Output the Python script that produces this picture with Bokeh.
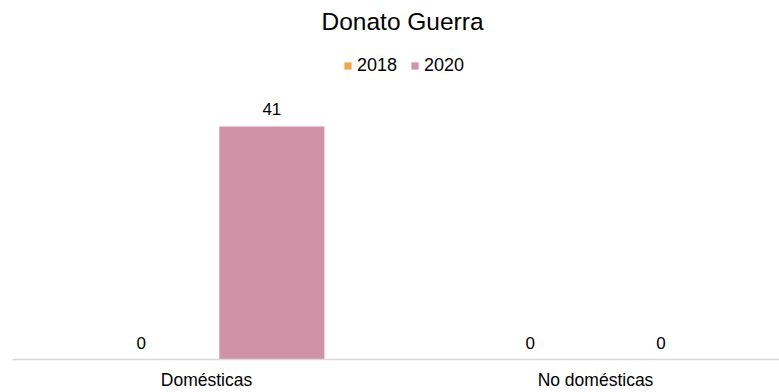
from bokeh.plotting import figure
from bokeh.models import ColumnDataSource, Range1d, FixedTicker, Legend, LegendItem, LabelSet
from bokeh.core.properties import value
from bokeh.embed import file_html
from bokeh.resources import INLINE

categories = ["Domésticas", "No domésticas"]
years = ["2018", "2020"]
values_2018 = [0, 0]
values_2020 = [41, 0]
colors = ["#F5A54A", "#D191A7"]

FONT = "Liberation Sans"
pos = [i + 0.5 for i in range(len(categories))]
offset = 0.168
bw = 0.27

p = figure(width=779, height=392, output_backend="svg", toolbar_location=None,
           x_range=Range1d(0.0013, 1.973), y_range=Range1d(0, 56.3),
           min_border_left=12, min_border_right=0, min_border_top=0, min_border_bottom=0,
           y_axis_location=None)
p.outline_line_color = None
p.xgrid.visible = False
p.ygrid.visible = False

p.title.text = "Donato Guerra"
p.title.align = "left"
p.title.offset = 309
p.title.text_font = FONT
p.title.text_font_size = "24.5px"
p.title.text_font_style = "normal"
p.title.text_color = "#000000"

renderers = []
for yr, vals, col, sgn in zip(years, [values_2018, values_2020], colors, [-1, 1]):
    src = ColumnDataSource(dict(x=[x + sgn * offset for x in pos], top=vals,
                                lab=[str(v) for v in vals]))
    r = p.vbar(x="x", top="top", width=bw, source=src, fill_color=col, line_color=None)
    renderers.append(r)
    p.add_layout(LabelSet(x="x", y="top", text="lab", source=src, text_align="center",
                          text_baseline="bottom", y_offset=11, text_font=value(FONT),
                          text_font_size=value("17px"), text_color="#000000"))

legend = Legend(items=[LegendItem(label=y, renderers=[r]) for y, r in zip(years, renderers)],
                orientation="horizontal", location=(331, 283),
                label_text_font=FONT, label_text_font_size="18px", label_text_color="#000000",
                glyph_width=9, glyph_height=9, label_standoff=5, spacing=13,
                border_line_color=None, background_fill_alpha=0, padding=0, margin=0)
p.add_layout(legend, "center")

ax = p.xaxis[0]
ax.ticker = FixedTicker(ticks=pos)
ax.major_label_overrides = {x: c for x, c in zip(pos, categories)}
ax.axis_line_color = "#d9d9d9"
ax.axis_line_width = 1.5
ax.major_tick_line_color = None
ax.minor_tick_line_color = None
ax.major_tick_out = 0
ax.major_tick_in = 0
ax.major_label_text_font = FONT
ax.major_label_text_font_size = "17.5px"
ax.major_label_text_color = "#000000"
ax.major_label_standoff = 10

open("out.html", "w").write(file_html(p, INLINE))
